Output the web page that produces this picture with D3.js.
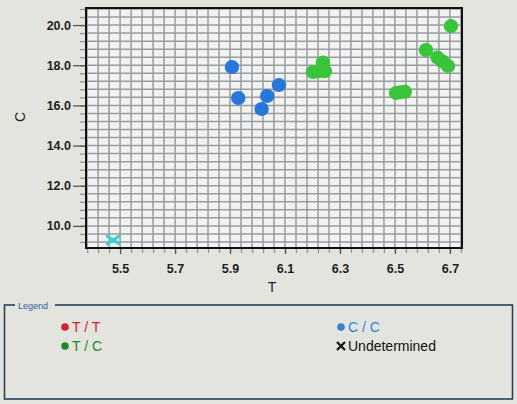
<!DOCTYPE html>
<html>
<head>
<meta charset="utf-8">
<script src="https://cdn.jsdelivr.net/npm/d3@7"></script>
<style>
  html, body { margin: 0; padding: 0; background: #e4e4df; }
  svg { display: block; font-family: "Liberation Sans", Arial, sans-serif; }
</style>
</head>
<body>
<svg id="chart" width="517" height="404"></svg>
<script>
// ---- data ----
const xTicks = [5.5, 5.7, 5.9, 6.1, 6.3, 6.5, 6.7];
const yTicks = [10, 12, 14, 16, 18, 20];
const ccT = [5.907, 5.930, 6.015, 6.035, 6.078];
const ccC = [17.91, 16.37, 15.82, 16.47, 17.01];
const tcT = [6.202, 6.222, 6.238, 6.245, 6.504, 6.520, 6.536, 6.613, 6.655, 6.672, 6.693, 6.704];
const tcC = [17.66, 17.70, 18.14, 17.70, 16.62, 16.66, 16.68, 18.76, 18.38, 18.20, 17.96, 19.95];
const ttT = [];
const ttC = [];
const undT = [5.475];
const undC = [9.30];
const legendLabels = ["T / T", "T / C", "C / C", "Undetermined"];
const legendColors = ["#cf2036", "#23862c", "#3382d6", "#111111"];
const legendShapes = ["dot", "dot", "dot", "cross"];

// ---- scales ----
const svg = d3.select("#chart");
const W = 517, H = 404;
svg.append("rect").attr("width", W).attr("height", H).attr("fill", "#e4e4df");

const x = d3.scaleLinear().domain([5.376, 6.744]).range([86, 462]);
const y = d3.scaleLinear().domain([8.9, 20.85]).range([248, 8]);

const [x0, x1] = x.range();
const [y0, y1] = y.range();

// plot background
svg.append("rect").attr("x", x0).attr("y", y1).attr("width", x1 - x0).attr("height", y0 - y1)
  .attr("fill", "#f2f3f1");

// grid
const xGrid = d3.range(-3, 32).map(k => 5.5 + k * 0.04).filter(v => v > 5.376 && v < 6.744);
const yGrid = d3.range(-2, 28).map(k => 10 + k * 0.4).filter(v => v > 8.9 && v < 20.85);

const grid = svg.append("g").attr("stroke", "#979ca2").attr("stroke-width", 1.5);
grid.selectAll(".vx").data(xGrid).join("line")
  .attr("x1", d => x(d)).attr("x2", d => x(d)).attr("y1", y1).attr("y2", y0);
grid.selectAll(".hy").data(yGrid).join("line")
  .attr("y1", d => y(d)).attr("y2", d => y(d)).attr("x1", x0).attr("x2", x1);

// minor ticks (axes)
svg.append("g").attr("transform", `translate(0,${y0})`)
  .call(d3.axisBottom(x).tickValues(xGrid).tickSize(5).tickFormat(""))
  .call(g => g.select(".domain").remove())
  .call(g => g.selectAll("line").attr("stroke", "#8f949a").attr("stroke-width", 1.3));
svg.append("g").attr("transform", `translate(${x0},0)`)
  .call(d3.axisLeft(y).tickValues(yGrid).tickSize(6).tickFormat(""))
  .call(g => g.select(".domain").remove())
  .call(g => g.selectAll("line").attr("stroke", "#8f949a").attr("stroke-width", 1.3));

// major axes
const xAxis = svg.append("g").attr("transform", `translate(0,${y0})`)
  .call(d3.axisBottom(x).tickValues(xTicks).tickSize(6).tickPadding(10).tickFormat(d3.format(".1f")));
xAxis.select(".domain").remove();
xAxis.selectAll("line").attr("stroke", "#555").attr("stroke-width", 1.3);
xAxis.selectAll("text").attr("font-size", 12.5).attr("font-weight", "bold").attr("fill", "#1e1e1e")
  .attr("font-family", "Liberation Sans, Arial, sans-serif");

const yAxis = svg.append("g").attr("transform", `translate(${x0},0)`)
  .call(d3.axisLeft(y).tickValues(yTicks).tickSize(13).tickPadding(2).tickFormat(d3.format(".1f")));
yAxis.select(".domain").remove();
yAxis.selectAll("line").attr("stroke", "#555").attr("stroke-width", 1.3);
yAxis.selectAll("text").attr("font-size", 12.5).attr("font-weight", "bold").attr("fill", "#1e1e1e")
  .attr("font-family", "Liberation Sans, Arial, sans-serif");

// frame
svg.append("rect").attr("x", x0).attr("y", y1).attr("width", x1 - x0).attr("height", y0 - y1)
  .attr("fill", "none").attr("stroke", "#111").attr("stroke-width", 2);

// axis titles
svg.append("text").attr("x", (x0 + x1) / 2 - 2).attr("y", 292).attr("text-anchor", "middle")
  .attr("font-size", 14).attr("fill", "#222").text("T");
svg.append("text").attr("transform", `translate(25,${(y0 + y1) / 2 - 11}) rotate(-90)`)
  .attr("text-anchor", "middle").attr("font-size", 14).attr("fill", "#222").text("C");

// data points
const plot = svg.append("g");
const pts = (tArr, cArr) => tArr.map((t, i) => ({ t, c: cArr[i] }));
plot.selectAll(".tt").data(pts(ttT, ttC)).join("ellipse")
  .attr("cx", d => x(d.t)).attr("cy", d => y(d.c)).attr("rx", 7.2).attr("ry", 7).attr("fill", "#d92a3a");
plot.selectAll(".cc").data(pts(ccT, ccC)).join("ellipse")
  .attr("cx", d => x(d.t)).attr("cy", d => y(d.c)).attr("rx", 7.2).attr("ry", 7).attr("fill", "#2776dc");
plot.selectAll(".tc").data(pts(tcT, tcC)).join("ellipse")
  .attr("cx", d => x(d.t)).attr("cy", d => y(d.c)).attr("rx", 7.2).attr("ry", 7).attr("fill", "#3ac43a");
const und = plot.selectAll(".und").data(pts(undT, undC)).join("g")
  .attr("transform", d => `translate(${x(d.t)},${y(d.c)})`)
  .attr("stroke", "#3ccfcf").attr("stroke-width", 3).attr("stroke-linecap", "round");
und.append("line").attr("x1", -6).attr("y1", -4).attr("x2", 6).attr("y2", 4);
und.append("line").attr("x1", -6).attr("y1", 4).attr("x2", 6).attr("y2", -4);

// legend box
const lg = svg.append("g");
lg.append("rect").attr("x", 4.5).attr("y", 305).attr("width", 508).attr("height", 94)
  .attr("fill", "none").attr("stroke", "#2a3f5a").attr("stroke-width", 1.6);
lg.append("rect").attr("x", 15).attr("y", 300).attr("width", 40).attr("height", 10).attr("fill", "#e4e4df");
lg.append("text").attr("x", 18).attr("y", 308.5).attr("font-size", 9).attr("fill", "#2c5c9c").text("Legend");

const colX = [65, 341];
const rowY = [327, 346];
const items = legendLabels.map((lab, i) => ({
  lab, color: legendColors[i], shape: legendShapes[i],
  x: colX[Math.floor(i / 2)], y: rowY[i % 2]
}));
const li = lg.selectAll(".li").data(items).join("g")
  .attr("transform", d => `translate(${d.x},${d.y})`);
li.filter(d => d.shape === "dot").append("circle").attr("r", 3.8).attr("fill", d => d.color);
li.filter(d => d.shape === "cross").append("path")
  .attr("d", "M-4,-4L4,4M-4,4L4,-4").attr("stroke", d => d.color).attr("stroke-width", 2.2);
li.append("text").attr("x", 7).attr("y", 5)
  .attr("font-size", 14).attr("fill", d => d.color).text(d => d.lab);
</script>
</body>
</html>
